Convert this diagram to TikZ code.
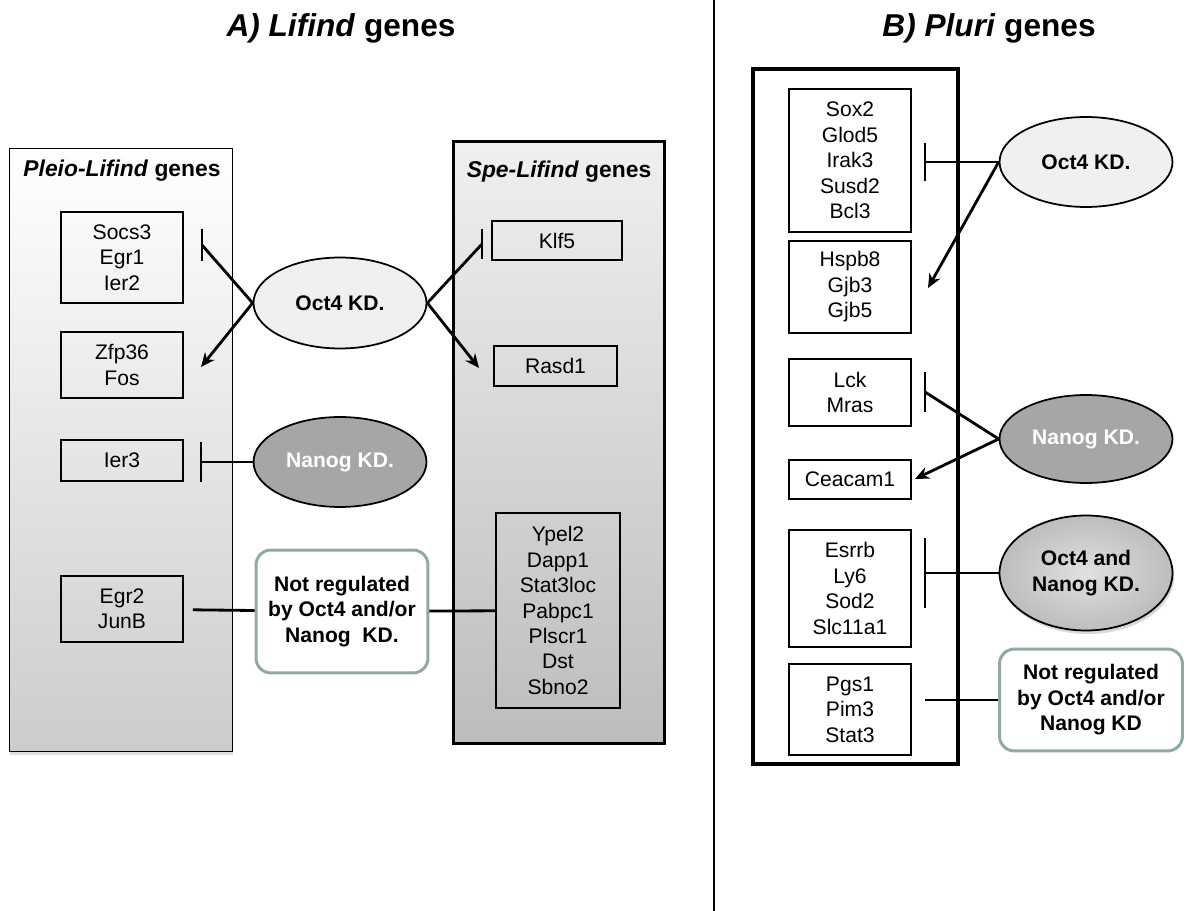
\documentclass[tikz,border=0pt]{standalone}
\usepackage{fontspec}
\setmainfont{Liberation Sans}
\usepackage{tikz}
\usetikzlibrary{shapes,arrows.meta,positioning,calc,shadows}
\usepackage{xcolor}
\definecolor{tealgray}{RGB}{143,168,168}

\begin{document}
\begin{tikzpicture}[
    x=0.02cm, y=-0.02cm,
    panel/.style={rectangle, anchor=north west, inner sep=0pt},
    gene/.style={rectangle, draw, line width=1.1pt, minimum width=2.44cm, inner sep=0pt, align=center, font=\fontsize{12}{14.5}\selectfont},
    kd/.style={ellipse, draw, line width=1pt, inner sep=0pt, minimum width=3.46cm, minimum height=1.8cm, align=center, font=\bfseries\fontsize{12}{14.5}\selectfont},
    notreg/.style={rectangle, rounded corners=0.3cm, draw=tealgray, line width=1.7pt, fill=white, inner sep=0pt, align=center, font=\bfseries\fontsize{12}{14.5}\selectfont},
    title/.style={anchor=base, font=\bfseries\fontsize{18}{21}\selectfont},
    subtitle/.style={anchor=base, font=\bfseries\fontsize{13}{15}\selectfont},
    link/.style={line width=1.6pt},
    arrow/.style={-{Stealth[length=8pt,width=7pt]}, line width=1.6pt}
]
\useasboundingbox (0,0) rectangle (1186,911);

% Titles and divider
\node[title] (titleA) at (341,37) {\textit{A) Lifind} genes};
\node[title] (titleB) at (989,37) {\textit{B) Pluri} genes};
\draw[line width=1pt] (714,0) -- (714,911);

% Gene groups
\node[panel, draw, line width=0.8pt, shade, top color=white, bottom color=black!20,
      drop shadow={opacity=0.25, shadow xshift=0pt, shadow yshift=-2pt},
      minimum width=4.46cm, minimum height=12.06cm] (pleio) at (9,148) {};
\node[panel, draw, line width=1.5pt, shade, top color=black!6, bottom color=black!26,
      minimum width=4.22cm, minimum height=12.04cm] (spe) at (452,140) {};
\node[panel, draw, line width=2.5pt, minimum width=4.1cm, minimum height=13.9cm] (pluri) at (751,67) {};
\node[subtitle] (pleioT) at (122,177) {\textit{Pleio-Lifind} genes};
\node[subtitle] (speT) at (559,178) {\textit{Spe-Lifind} genes};

% Pleio-Lifind genes
\node[gene, minimum height=1.82cm] (socs) at (122,257.5) {Socs3\\Egr1\\Ier2};
\node[gene, minimum height=1.32cm] (zfp) at (122,365) {Zfp36\\Fos};
\node[gene, minimum height=0.82cm] (ier3) at (122,460.5) {Ier3};
\node[gene, minimum height=1.32cm] (egr2) at (122,609) {Egr2\\JunB};

% Spe-Lifind genes
\node[gene, minimum width=2.6cm, minimum height=0.78cm] (klf5) at (557,240.5) {Klf5};
\node[gene, minimum width=2.46cm, minimum height=0.8cm] (rasd1) at (555.5,366) {Rasd1};
\node[gene, minimum width=2.48cm, minimum height=3.9cm] (ypel2) at (558,610.5) {Ypel2\\Dapp1\\Stat3loc\\Pabpc1\\Plscr1\\Dst\\Sbno2};

% Pluri genes
\node[gene, minimum height=2.86cm] (sox2) at (850,160.5) {Sox2\\Glod5\\Irak3\\Susd2\\Bcl3};
\node[gene, minimum height=1.84cm] (hspb8) at (850,287) {Hspb8\\Gjb3\\Gjb5};
\node[gene, minimum height=1.34cm] (lck) at (850,392.5) {Lck\\Mras};
\node[gene, minimum height=0.78cm] (ceacam) at (850,479.5) {Ceacam1};
\node[gene, minimum height=2.34cm] (esrrb) at (850,588.5) {Esrrb\\Ly6\\Sod2\\Slc11a1};
\node[gene, minimum height=1.82cm] (pgs1) at (850,709.5) {Pgs1\\Pim3\\Stat3};

% Knock-downs
\node[kd, fill=black!6, minimum height=1.82cm] (oct4L) at (340,303) {Oct4 KD.};
\node[kd, fill=black!35, text=white] (nanogL) at (340,462) {Nanog KD.};
\node[kd, fill=black!6] (oct4R) at (1086,162) {Oct4 KD.};
\node[kd, fill=black!35, text=white, minimum height=1.76cm] (nanogR) at (1086,439) {Nanog KD.};
\node[kd, shade, inner color=black!12, outer color=black!26, minimum height=2.3cm,
      drop shadow={opacity=0.3, shadow xshift=1pt, shadow yshift=-2pt}] (bothR) at (1086,573) {Oct4 and\\Nanog KD.};

% Not regulated
\node[notreg, minimum width=3.44cm, minimum height=2.46cm] (notregL) at (342,611.5) {Not regulated\\by Oct4 and/or\\Nanog~~KD.};
\node[notreg, minimum width=3.66cm, minimum height=2.04cm] (notregR) at (1091,700) {Not regulated\\by Oct4 and/or\\Nanog KD};

% Free ends of the connectors
\coordinate (tSocs) at (202,245);
\coordinate (aZfp) at (201,367);
\coordinate (tKlf) at (482,244);
\coordinate (aRasd) at (479,368);
\coordinate (tIer) at (201,462);
\coordinate (tSox) at (925,162);
\coordinate (aHspb) at (928,288);
\coordinate (tLck) at (925,392);
\coordinate (aCea) at (915,479);
\coordinate (tEsrrb) at (925,573);
\coordinate (lPgs) at (925,700);

% Connectors
\draw[link] (oct4L.west) -- (tSocs);
\draw[arrow] (oct4L.west) -- (aZfp);
\draw[link] (oct4L.east) -- (tKlf);
\draw[arrow] (oct4L.east) -- (aRasd);
\draw[link] (nanogL) -- (tIer);
\draw[link, shorten <=0.18cm] (egr2) -- (notregL);
\draw[link] (notregL) -- (ypel2);
\draw[link] (oct4R.west) -- (tSox);
\draw[arrow] (oct4R.west) -- (aHspb);
\draw[link] (nanogR.west) -- (tLck);
\draw[arrow] (nanogR.west) -- (aCea);
\draw[link] (bothR) -- (tEsrrb);
\draw[link] (lPgs) -- (notregR);

% Bars
\foreach \c/\h in {tSocs/16, tKlf/15, tIer/20, tSox/19, tLck/20, tEsrrb/35}
    \draw[link] (\c) +(0,-\h) -- +(0,\h);

\end{tikzpicture}
\end{document}
